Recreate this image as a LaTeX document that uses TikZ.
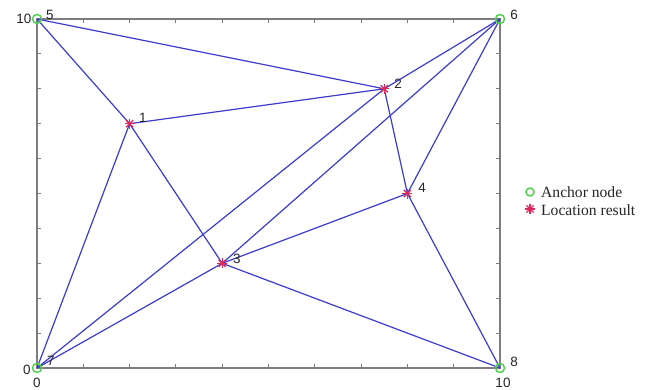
\documentclass[tikz,border=0pt]{standalone}
\usepackage{fontspec}
\setmainfont{Liberation Serif}
\setsansfont{Liberation Sans}
\definecolor{edgecol}{RGB}{60,60,205}
\definecolor{anchorcol}{RGB}{80,210,80}
\definecolor{starcol}{RGB}{220,40,90}
\definecolor{framecol}{RGB}{125,125,125}
\tikzset{
  frame/.style={draw=framecol, line width=1.3pt},
  tick/.style={draw=framecol, line width=0.9pt},
  edge/.style={draw=edgecol, line width=1.2pt},
  anchormark/.style={circle, draw=anchorcol, line width=1.5pt, inner sep=0pt, minimum size=9pt},
  starmark/.style={circle, inner sep=0pt, minimum size=11pt,
    path picture={\foreach \a in {0,45,90,135}{\draw[starcol, line width=1.3pt] (path picture bounding box.center) ++(\a:5pt) -- ++(\a+180:10pt);}}},
  numlbl/.style={font=\sffamily\fontsize{13.5}{15}\selectfont, text=black!85, inner sep=0pt},
  leglbl/.style={font=\fontsize{15.6}{17}\selectfont, text=black!85, inner sep=0pt, anchor=base west}
}
\begin{document}
\begin{tikzpicture}[x=1pt,y=1pt]
\fill[white] (0,0) rectangle (648,389);
\useasboundingbox (0,0) rectangle (648,389);
\begin{scope}[shift={(37,21)}, x=46.3pt, y=34.9pt]
  % frame and ticks
  \draw[frame] (0,0) rectangle (10,10);
  \foreach \i in {1,...,9}{
    \draw[tick] (\i,0) -- ++(0,4pt);
    \draw[tick] (\i,10) -- ++(0,-4pt);
    \draw[tick] (0,\i) -- ++(4pt,0);
    \draw[tick] (10,\i) -- ++(-4pt,0);
  }
  % positions
  \coordinate (p1) at (2,7);
  \coordinate (p2) at (7.5,8);
  \coordinate (p3) at (4,3);
  \coordinate (p4) at (8,5);
  \coordinate (p5) at (0,10);
  \coordinate (p6) at (10,10);
  \coordinate (p7) at (0,0);
  \coordinate (p8) at (10,0);
  % connectors
  \draw[edge] (p5) -- (p1);
  \draw[edge] (p5) -- (p2);
  \draw[edge] (p1) -- (p2);
  \draw[edge] (p1) -- (p3);
  \draw[edge] (p1) -- (p7);
  \draw[edge] (p2) -- (p7);
  \draw[edge] (p2) -- (p6);
  \draw[edge] (p2) -- (p4);
  \draw[edge] (p4) -- (p6);
  \draw[edge] (p4) -- (p3);
  \draw[edge] (p4) -- (p8);
  \draw[edge] (p3) -- (p6);
  \draw[edge] (p3) -- (p8);
  \draw[edge] (p3) -- (p7);
  % markers
  \node[anchormark] (m5) at (p5) {};
  \node[anchormark] (m6) at (p6) {};
  \node[anchormark] (m7) at (p7) {};
  \node[anchormark] (m8) at (p8) {};
  \node[starmark] (m1) at (p1) {};
  \node[starmark] (m2) at (p2) {};
  \node[starmark] (m3) at (p3) {};
  \node[starmark] (m4) at (p4) {};
\end{scope}
% axis numbers
\node[numlbl] (yl10) at (24,370) {10};
\node[numlbl] (yl0) at (27,19) {0};
\node[numlbl] (xl0) at (37,6) {0};
\node[numlbl] (xl10) at (503,6) {10};
% node labels
\node[numlbl] (t5) at (50,374) {5};
\node[numlbl] (t6) at (514,374) {6};
\node[numlbl] (t2) at (398,305) {2};
\node[numlbl] (t4) at (422,201) {4};
\node[numlbl] (t3) at (237,130) {3};
\node[numlbl] (t1) at (143,271) {1};
\node[numlbl] (t7) at (51,28) {7};
\node[numlbl] (t8) at (514,27) {8};
% legend
\node[anchormark, minimum size=8pt] (lga) at (530,197) {};
\node[starmark] (lgs) at (530,180) {};
\node[leglbl] (lgat) at (541,192) {Anchor node};
\node[leglbl] (lgst) at (541,174) {Location result};
\end{tikzpicture}
\end{document}
